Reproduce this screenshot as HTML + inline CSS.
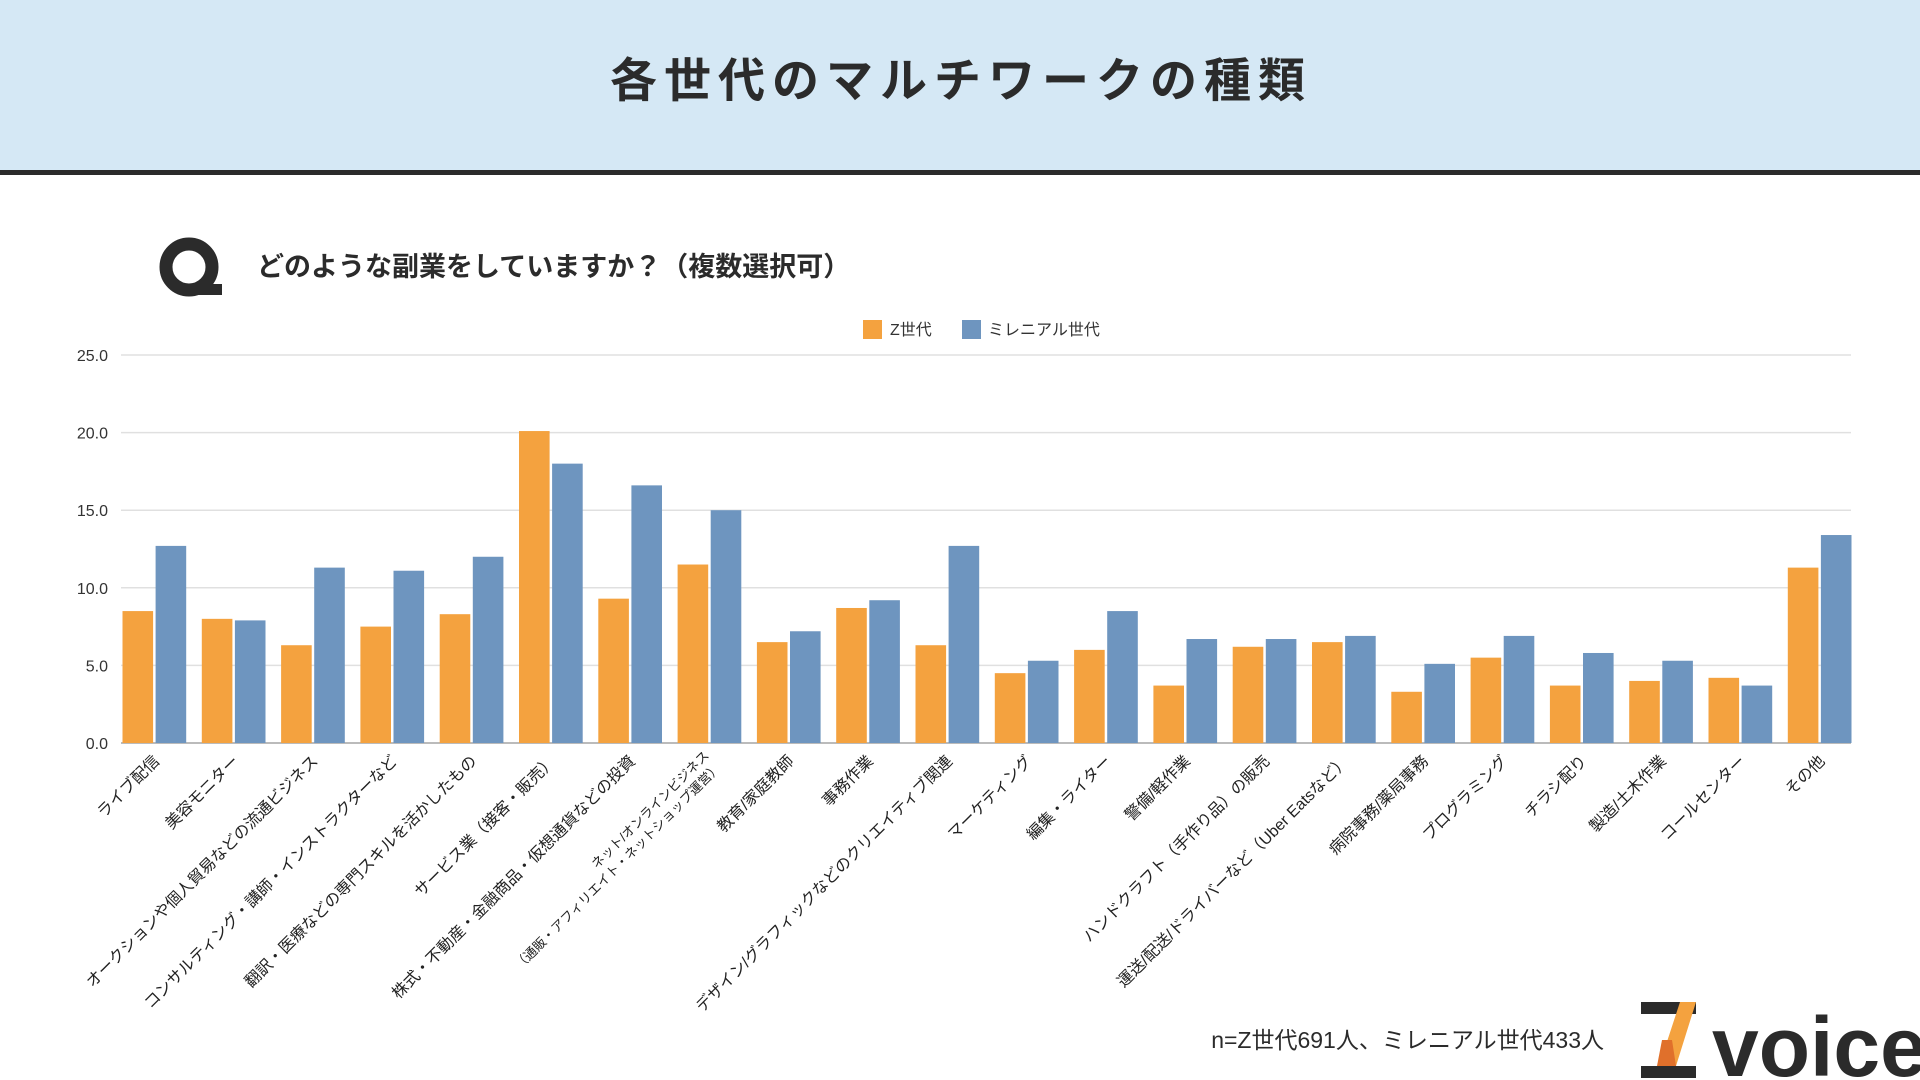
<!DOCTYPE html>
<html><head><meta charset="utf-8"><style>
html,body{margin:0;padding:0;background:#fff;}
svg{display:block;font-family:"Liberation Sans","Noto Sans CJK JP",sans-serif;}
</style></head><body>
<svg id="chart" width="1920" height="1080" viewBox="0 0 1920 1080">
<rect x="0" y="0" width="1920" height="170" fill="#d5e8f5"/>
<rect x="0" y="170" width="1920" height="5" fill="#2b2b2b"/>
<text x="961" y="97" text-anchor="middle" font-size="47" font-weight="bold" letter-spacing="7" fill="#2b2b2b">各世代のマルチワークの種類</text>
<g>
<circle cx="189" cy="267" r="23" fill="none" stroke="#2b2b2b" stroke-width="13"/>
<rect x="196" y="284" width="26" height="11" fill="#2b2b2b"/>
</g>
<text x="257" y="276" font-size="27" font-weight="bold" fill="#2b2b2b">どのような副業をしていますか？（複数選択可）</text>
<g>
<rect x="863" y="320" width="19" height="19" fill="#f4a23f"/>
<text x="890" y="335" font-size="16" fill="#333">Z世代</text>
<rect x="962" y="320" width="19" height="19" fill="#6e95bf"/>
<text x="988" y="335" font-size="16" fill="#333">ミレニアル世代</text>
</g>
<g id="grid"></g><g id="bars"></g><g id="labels"></g>
<text x="1604" y="1048" text-anchor="end" font-size="23" fill="#2b2b2b">n=Z世代691人、ミレニアル世代433人</text>
<g>
<rect x="1641" y="1002" width="55" height="12" fill="#2b2b2b"/>
<rect x="1641" y="1066" width="55" height="12" fill="#2b2b2b"/>
<polygon points="1680,1002 1696,1002 1676,1066 1659,1066" fill="#f4a23f"/>
<polygon points="1662,1040 1672,1040 1676,1066 1657,1066" fill="#e0702b"/>
<text x="1712" y="1076" font-size="84" font-weight="bold" fill="#2b2b2b">voice</text>
</g>
</svg>
<script>
const categories = ["ライブ配信","美容モニター","オークションや個人貿易などの流通ビジネス","コンサルティング・講師・インストラクターなど","翻訳・医療などの専門スキルを活かしたもの","サービス業（接客・販売）","株式・不動産・金融商品・仮想通貨などの投資","ネット/オンラインビジネス|（通販・アフィリエイト・ネットショップ運営）","教育/家庭教師","事務作業","デザイン/グラフィックなどのクリエイティブ関連","マーケティング","編集・ライター","警備/軽作業","ハンドクラフト（手作り品）の販売","運送/配送/ドライバーなど（Uber Eatsなど）","病院事務/薬局事務","プログラミング","チラシ配り","製造/土木作業","コールセンター","その他"];
const zGen = [8.5,8.0,6.3,7.5,8.3,20.1,9.3,11.5,6.5,8.7,6.3,4.5,6.0,3.7,6.2,6.5,3.3,5.5,3.7,4.0,4.2,11.3];
const millennial = [12.7,7.9,11.3,11.1,12.0,18.0,16.6,15.0,7.2,9.2,12.7,5.3,8.5,6.7,6.7,6.9,5.1,6.9,5.8,5.3,3.7,13.4];
const yTicks = [0,5,10,15,20,25];

const NS="http://www.w3.org/2000/svg";
const gridLeft=121,gridRight=1851;
const plotLeft=114.7,plotRight=1859.3,plotTop=355,plotBottom=743,yMax=25;
const yScale=v=>plotBottom-(v/yMax)*(plotBottom-plotTop);
const band=(plotRight-plotLeft)/categories.length;
const bw=30.6,gap=2.5;
const xc=i=>plotLeft+band*i+band/2;
function mk(tag,attrs,parent){const e=document.createElementNS(NS,tag);for(const k in attrs)e.setAttribute(k,attrs[k]);parent.appendChild(e);return e;}
const gridG=document.getElementById('grid'),barsG=document.getElementById('bars'),labelsG=document.getElementById('labels');
yTicks.forEach(t=>{
  const l=mk('line',{x1:gridLeft,x2:gridRight,y1:yScale(t),y2:yScale(t),stroke:t===0?'#bbb':'#e0e0e0','stroke-width':t===0?2:1.5},gridG);
  
  
  const tx=mk('text',{x:108,y:yScale(t)+6,'text-anchor':'end','font-size':16,fill:'#333'},gridG);
  tx.textContent=t.toFixed(1);
  
  
});
categories.forEach((c,i)=>{
  const cx=xc(i);
  const r1=mk('rect',{x:cx-gap/2-bw,y:yScale(zGen[i]),width:bw,height:plotBottom-yScale(zGen[i]),fill:'#f4a23f'},barsG);
  
  
  const r2=mk('rect',{x:cx+gap/2,y:yScale(millennial[i]),width:bw,height:plotBottom-yScale(millennial[i]),fill:'#6e95bf'},barsG);
  
  
  const g=mk('g',{transform:`translate(${cx+6},762) rotate(-45)`},labelsG);
  
  
  const parts=c.split('|');
  if(parts.length===1){
    const t=mk('text',{x:0,y:0,'text-anchor':'end','font-size':16,fill:'#222'},g);t.textContent=c;
  } else {
    const t1=mk('text',{x:0,y:-8,'text-anchor':'end','font-size':13,fill:'#222'},g);t1.textContent=parts[0];
    const t2=mk('text',{x:0,y:9,'text-anchor':'end','font-size':13,fill:'#222'},g);t2.textContent=parts[1];
  }
});
</script>
</body></html>
